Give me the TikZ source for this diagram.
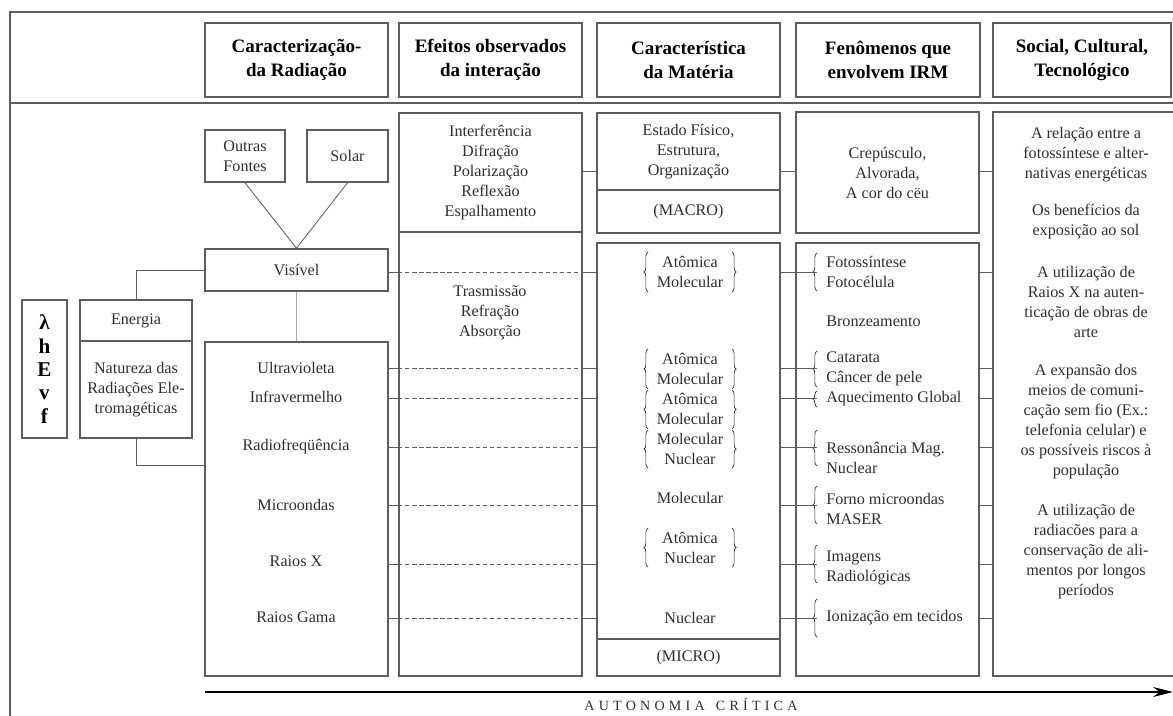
\documentclass[tikz,border=0pt]{standalone}
\usepackage{fontspec}
\setmainfont{Liberation Serif}
\newfontfamily\espacada[LetterSpace=30]{Liberation Serif}
\usetikzlibrary{fit,arrows.meta,decorations.pathreplacing}
\definecolor{linha}{HTML}{5E5E5E}
\definecolor{tinta}{HTML}{2E2E2E}
\definecolor{claro}{HTML}{A8A8A8}

\tikzset{
  caixa/.style = {draw=linha, line width=1.1pt, inner sep=0pt},
  titulo/.style = {font=\bfseries\fontsize{13.5}{17}\selectfont, align=center, text=black, inner sep=0pt},
  rotulo/.style = {font=\fontsize{11.5}{14.2}\selectfont, align=center, text=tinta, inner sep=0pt},
  item/.style = {rotulo, align=left, anchor=west},
  fio/.style = {draw=linha, line width=0.6pt},
  chave/.style = {draw=tinta, line width=0.5pt, decorate, decoration={brace, amplitude=3pt}},
}

\begin{document}
\begin{tikzpicture}[x=0.025cm, y=-0.025cm]
\useasboundingbox (0,0) rectangle (1173,716);

% moldura
\draw[caixa] (1180,12) -- (10,12) -- (10,720);
\draw[caixa] (10,103) -- (1180,103);

% cabecalho
\node[caixa, fit={(205,23) (388,97)}, label={[titulo]center:{Caracterização-\\da Radiação}}] (h1) {};
\node[caixa, fit={(399,23) (582,97)}, label={[titulo]center:{Efeitos observados\\da interação}}] (h2) {};
\node[caixa, fit={(597,23) (780,97)}, label={[titulo]center:{Característica\\da Matéria}}] (h3) {};
\node[caixa, fit={(796,23) (980,97)}, label={[titulo]center:{Fenômenos que\\envolvem IRM}}] (h4) {};
\node[caixa, fit={(993,23) (1171,97)}, label={[titulo]center:{Social, Cultural,\\Tecnológico}}] (h5) {};

% coluna da radiacao
\node[caixa, fit={(205,130) (285,182)}, label={[rotulo]center:{Outras\\Fontes}}] (outras) {};
\node[caixa, fit={(307,130) (388,182)}, label={[rotulo]center:Solar}] (solar) {};
\node[caixa, fit={(205,249) (388,291)}, label={[rotulo]center:Visível}] (vis) {};
\node[caixa, fit={(205,342) (388,676)}] (rad) {};
\node[caixa, fit={(22,300) (67,438)}, label={[font=\bfseries\fontsize{15}{16.6}\selectfont, align=center, inner sep=0pt]center:{λ\\h\\E\\v\\f}}] (lam) {};
\node[caixa, fit={(80,300) (192,341)}, label={[rotulo]center:Energia}] (energia) {};
\node[caixa, fit={(80,341) (192,438)}, label={[rotulo]center:{Natureza das\\Radiações Ele-\\tromagéticas}}] (natureza) {};

\node[rotulo] (uv) at (296,368) {Ultravioleta};
\node[rotulo] (iv) at (296,397) {Infravermelho};
\node[rotulo] (rf) at (296,447) {Radiofreqüência};
\node[rotulo] (mo) at (296,505) {Microondas};
\node[rotulo] (rx) at (296,561) {Raios X};
\node[rotulo] (rg) at (296,617) {Raios Gama};

\draw[fio] (outras.south) -- (vis.north) -- (solar.south);
\draw[draw=claro, line width=0.9pt] (vis.south) -- (rad.north);
\draw[fio] (vis.west) -| (energia.north);
\coordinate (radin) at (205,465);
\draw[fio] (natureza.south) |- (radin);

% efeitos
\node[caixa, fit={(399,113) (582,232)}, label={[rotulo]center:{Interferência\\Difração\\Polarização\\Reflexão\\Espalhamento}}] (efa) {};
\node[caixa, fit={(399,232) (582,676)}] (efb) {};
\node[rotulo] (tra) at (490,313) {Trasmissão\\Refração\\Absorção};

% materia
\node[caixa, fit={(597,113) (780,190)}, label={[rotulo]center:{Estado Físico,\\Estrutura,\\Organização}}] (estado) {};
\node[caixa, fit={(597,190) (780,233)}, label={[rotulo]center:(MACRO)}] (macro) {};
\node[caixa, fit={(597,243) (780,639)}] (matlow) {};
\node[caixa, fit={(597,639) (780,676)}, label={[rotulo]center:(MICRO)}] (micro) {};

\node[rotulo] (m1) at (690,272) {Atômica\\Molecular};
\node[rotulo] (m2) at (690,369) {Atômica\\Molecular};
\node[rotulo] (m3) at (690,409) {Atômica\\Molecular};
\node[rotulo] (m4) at (690,449) {Molecular\\Nuclear};
\node[rotulo] (m5) at (690,498) {Molecular};
\node[rotulo] (m6) at (690,548) {Atômica\\Nuclear};
\node[rotulo] (m7) at (690,618) {Nuclear};
\foreach \a/\b in {252/292, 349/389, 390/429, 430/468, 528/567}{
  \draw[chave] (648,\b) -- (648,\a);
  \draw[chave] (732,\a) -- (732,\b);
}

% fenomenos
\node[caixa, fit={(796,112) (979,233)}, label={[rotulo]center:{Crepúsculo,\\Alvorada,\\A cor do cëu}}] (fentop) {};
\node[caixa, fit={(796,243) (979,676)}] (fenbx) {};
\node[item] (f1) at (826,272) {Fotossíntese\\Fotocélula};
\node[item] (f2) at (826,321) {Bronzeamento};
\node[item] (f3) at (826,369) {Catarata\\Câncer de pele};
\node[item] (f4) at (826,399) {Aquecimento Global};
\node[item] (f5) at (826,458) {Ressonância Mag.\\Nuclear};
\node[item] (f6) at (826,509) {Forno microondas\\MASER};
\node[item] (f7) at (826,568) {Imagens\\Radiológicas};
\node[item] (f8) at (826,618) {Ionização em tecidos};
\foreach \y/\h in {272/19, 369/18, 399/8, 448/18, 505/19, 564/19, 618/19}
  \draw[chave] (817,\y+\h) -- (817,\y-\h);

% social
\node[caixa, fit={(993,112) (1185,676)}] (soc) {};
\node[rotulo] (s1) at (1086,155) {A relação entre a\\fotossíntese e alter-\\nativas energéticas};
\node[rotulo] (s2) at (1086,222) {Os benefícios da\\exposição ao sol};
\node[rotulo] (s3) at (1086,302) {A utilização de\\Raios X na auten-\\ticação de obras de\\arte};
\node[rotulo] (s4) at (1086,422) {A expansão dos\\meios de comuni-\\cação sem fio (Ex.:\\telefonia celular) e\\os possíveis riscos à\\população};
\node[rotulo] (s5) at (1086,552) {A utilização de\\radiacões para a\\conservação de ali-\\mentos por longos\\períodos};

% ligacoes
\coordinate (r0) at (0,171);
\coordinate (chv) at (817,0);
\draw[fio] (r0 -| efa.east) -- (r0 -| estado.west);
\draw[fio] (r0 -| estado.east) -- (r0 -| fentop.west);
\draw[fio] (r0 -| fentop.east) -- (r0 -| soc.west);
\foreach \y [count=\i] in {272,368,398,447,505,564,618}{
  \coordinate (r\i) at (0,\y);
  \draw[fio] (r\i -| vis.east) -- (r\i -| efb.west);
  \draw[fio, dash pattern=on 3pt off 2pt] (r\i -| efb.west) -- (r\i -| efb.east);
  \draw[fio] (r\i -| efb.east) -- (r\i -| matlow.west);
  \draw[fio] (r\i -| matlow.east) -- (r\i -| chv);
  \draw[fio] (r\i -| fenbx.east) -- (r\i -| soc.west);
}

% seta
\coordinate (ini) at (205,692);
\coordinate (fim) at (1173,692);
\draw[line width=2pt, -{Stealth[length=14pt, width=7pt]}] (ini) -- (fim);
\node[font=\fontsize{10}{11}\selectfont, text=tinta, inner sep=0pt] (autonomia) at (691,705) {\espacada AUTONOMIA\hspace{8pt}CRÍTICA};

\end{tikzpicture}
\end{document}
